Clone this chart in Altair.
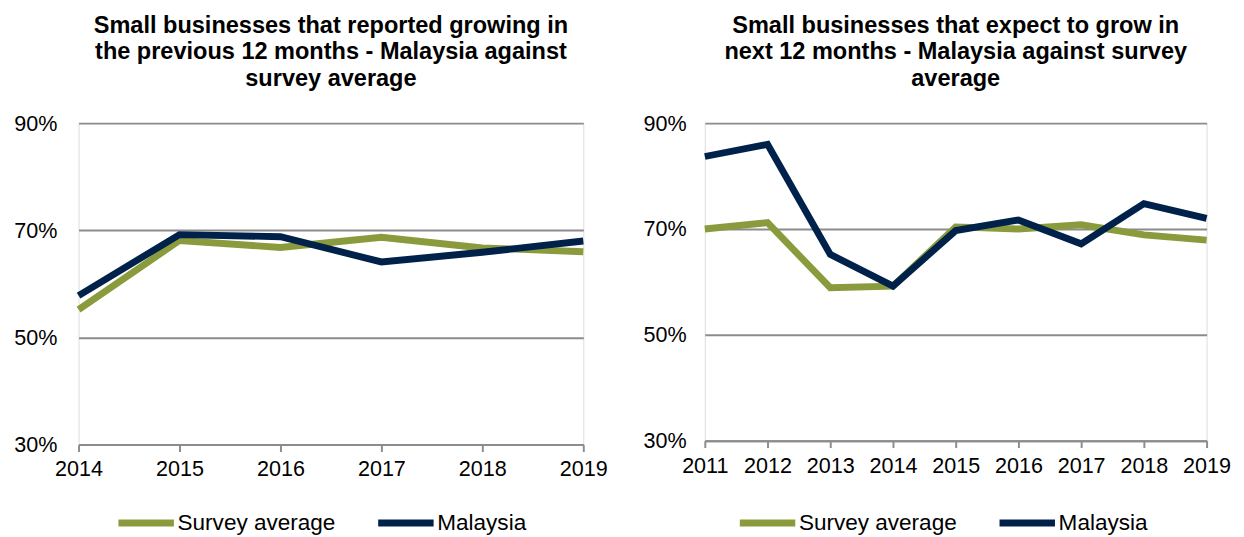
import altair as alt
import pandas as pd

series_names = ["Survey average", "Malaysia"]
colors = ["#8A9B3E", "#00224A"]

years_left = [2014, 2015, 2016, 2017, 2018, 2019]
survey_left = [0.552, 0.681, 0.668, 0.687, 0.667, 0.660]
malaysia_left = [0.578, 0.692, 0.688, 0.641, 0.659, 0.680]

years_right = [2011, 2012, 2013, 2014, 2015, 2016, 2017, 2018, 2019]
survey_right = [0.700, 0.712, 0.589, 0.592, 0.704, 0.700, 0.708, 0.689, 0.679]
malaysia_right = [0.837, 0.860, 0.652, 0.592, 0.697, 0.717, 0.672, 0.748, 0.720]

title_left = ["Small businesses that reported growing in",
              "the previous 12 months - Malaysia against",
              "survey average"]
title_right = ["Small businesses that expect to grow in",
               "next 12 months - Malaysia against survey",
               "average"]

y_ticks = [0.3, 0.5, 0.7, 0.9]
FONT = "Liberation Sans"


def make_df(years, a, b):
    rows = []
    for y, v in zip(years, a):
        rows.append({"year": y, "value": v, "series": series_names[0]})
    for y, v in zip(years, b):
        rows.append({"year": y, "value": v, "series": series_names[1]})
    return pd.DataFrame(rows)


def panel(years, a, b, title, w, h, lx, ly, ypad, toff):
    df = make_df(years, a, b)
    color = alt.Color(
        "series:N",
        scale=alt.Scale(domain=series_names, range=colors),
        legend=alt.Legend(
            title=None, orient="none", legendX=lx, legendY=ly,
            direction="horizontal", symbolType="stroke",
            symbolStrokeWidth=7, symbolSize=3200, labelFontSize=23,
            labelFont=FONT, labelColor="#000000", columnPadding=28,
            labelOffset=0, labelLimit=0,
        ),
    )
    x = alt.X(
        "year:Q",
        scale=alt.Scale(domain=[years[0], years[-1]], nice=False, zero=False),
        axis=alt.Axis(
            title=None, values=years, format="d", grid=False,
            domainColor="#8C8C8C", domainWidth=2, tickColor="#8C8C8C",
            tickWidth=2, tickSize=7, labelFontSize=22, labelFont=FONT,
            labelColor="#000000", labelFlush=False, labelPadding=8,
        ),
    )
    y = alt.Y(
        "value:Q",
        scale=alt.Scale(domain=[0.3, 0.9], nice=False, zero=False),
        axis=alt.Axis(
            title=None, values=y_ticks, format=".0%", grid=True,
            gridColor="#8C8C8C", gridWidth=2, domain=False, ticks=False,
            labelFontSize=22, labelFont=FONT, labelColor="#000000",
            labelPadding=ypad,
        ),
    )
    layers = []
    for s in series_names:
        layers.append(
            alt.Chart(df)
            .transform_filter(alt.datum.series == s)
            .mark_line(strokeWidth=7, strokeCap="butt", strokeJoin="miter")
            .encode(x=x, y=y, color=color)
        )
    return alt.layer(*layers).properties(
        width=w, height=h,
        title=alt.TitleParams(
            text=title, fontSize=24, font=FONT, fontWeight="bold",
            color="#000000", lineHeight=27, anchor="middle", offset=toff,
        ),
    )


left = panel(years_left, survey_left, malaysia_left, title_left,
             515, 328, 37, 376, 22, 22)
right = panel(years_right, survey_right, malaysia_right, title_right,
              512, 324, 32, 376, 19, 22)

chart = (
    alt.hconcat(left, right, spacing=35)
    .resolve_scale(color="independent", x="independent", y="independent")
    .resolve_legend(color="independent")
    .configure_view(stroke=None)
    .configure(background="#ffffff")
    .properties(padding={"left": 5, "top": 0, "right": 5, "bottom": 5})
)

chart.save("out.html", embed_options={"renderer": "svg", "actions": False})
